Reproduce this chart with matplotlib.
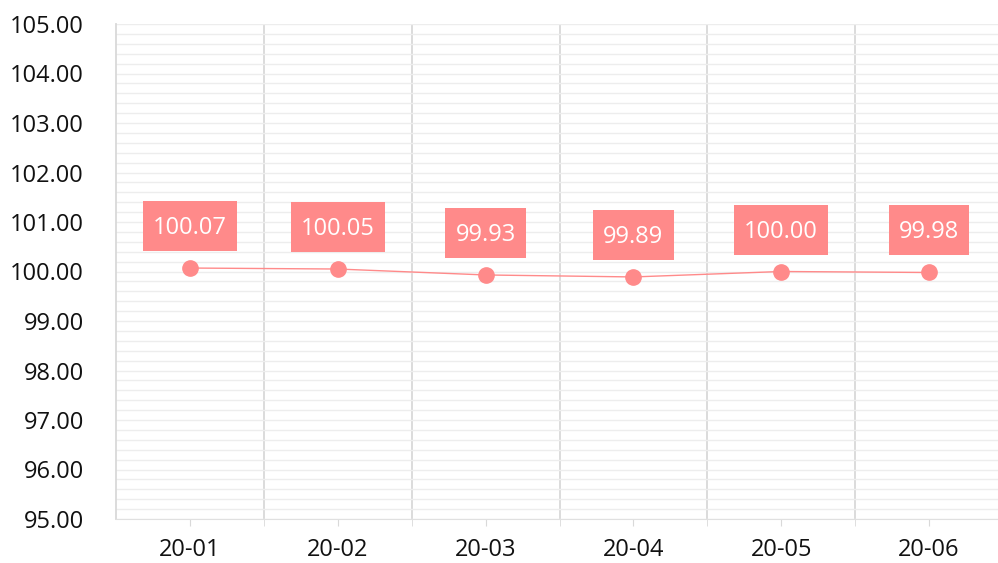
import numpy as np
import matplotlib.pyplot as plt
from matplotlib.ticker import MultipleLocator, FixedLocator
from matplotlib.patches import Rectangle
from matplotlib.transforms import ScaledTranslation

plt.rcParams['font.family'] = ['Open Sans', 'DejaVu Sans']

# data
months = ["20-01", "20-02", "20-03", "20-04", "20-05", "20-06"]
values = [100.07, 100.05, 99.93, 99.89, 100.00, 99.98]

pink = "#ff8a8a"
x = np.arange(len(months))

fig = plt.figure(figsize=(9.98, 5.63), dpi=100)
ax = fig.add_axes([116 / 998, 1 - 519 / 563, (1003 - 116) / 998, (519 - 24) / 563])

ax.set_xlim(-0.5, len(months) - 0.5)
ax.set_ylim(95, 105)

# grid
ax.yaxis.set_major_locator(MultipleLocator(1))
ax.yaxis.set_minor_locator(MultipleLocator(0.2))
ax.grid(axis="y", which="both", color="#ededed", linewidth=1)
ax.xaxis.set_major_locator(FixedLocator(x))
ax.xaxis.set_minor_locator(FixedLocator(x[:-1] + 0.5))
ax.grid(axis="x", which="minor", color="#d9d9d9", linewidth=1.3)
ax.set_axisbelow(True)

ax.set_xticks(x)
ax.set_xticklabels(months)
ax.yaxis.set_major_formatter(plt.FuncFormatter(lambda v, p: f"{v:.2f}"))

for s in ["top", "right"]:
    ax.spines[s].set_visible(False)
ax.spines["left"].set_color("#d9d9d9")
ax.spines["bottom"].set_color("#e0e0e0")
ax.spines["left"].set_linewidth(1.3)

ax.tick_params(axis="x", which="both", length=5, color="#d9d9d9", labelsize=17,
               labelcolor="#111111", pad=9)
ax.tick_params(axis="y", which="both", length=0, labelsize=17, labelcolor="#111111", pad=23)

# line + markers
ax.plot(x, values, color=pink, linewidth=1, marker="o", markersize=11,
        markerfacecolor=pink, markeredgecolor=pink, zorder=3)

# value labels: box 50 px tall, text width + 20 px wide, centred 42 px above the point
renderer = fig.canvas.get_renderer()
for xi, v in zip(x, values):
    t = ax.annotate(f"{v:.2f}", (xi, v), xytext=(0, 34), textcoords="offset pixels",
                    ha="center", va="baseline", color="white", fontsize=17, zorder=5)
    w = (t.get_window_extent(renderer).width + 20) / fig.dpi
    tr = fig.dpi_scale_trans + ScaledTranslation(xi, v, ax.transData)
    ax.add_patch(Rectangle((-w / 2, 0.17), w, 0.50, transform=tr,
                           facecolor=pink, edgecolor="none", zorder=4))

fig.savefig("out.png", dpi=100)
